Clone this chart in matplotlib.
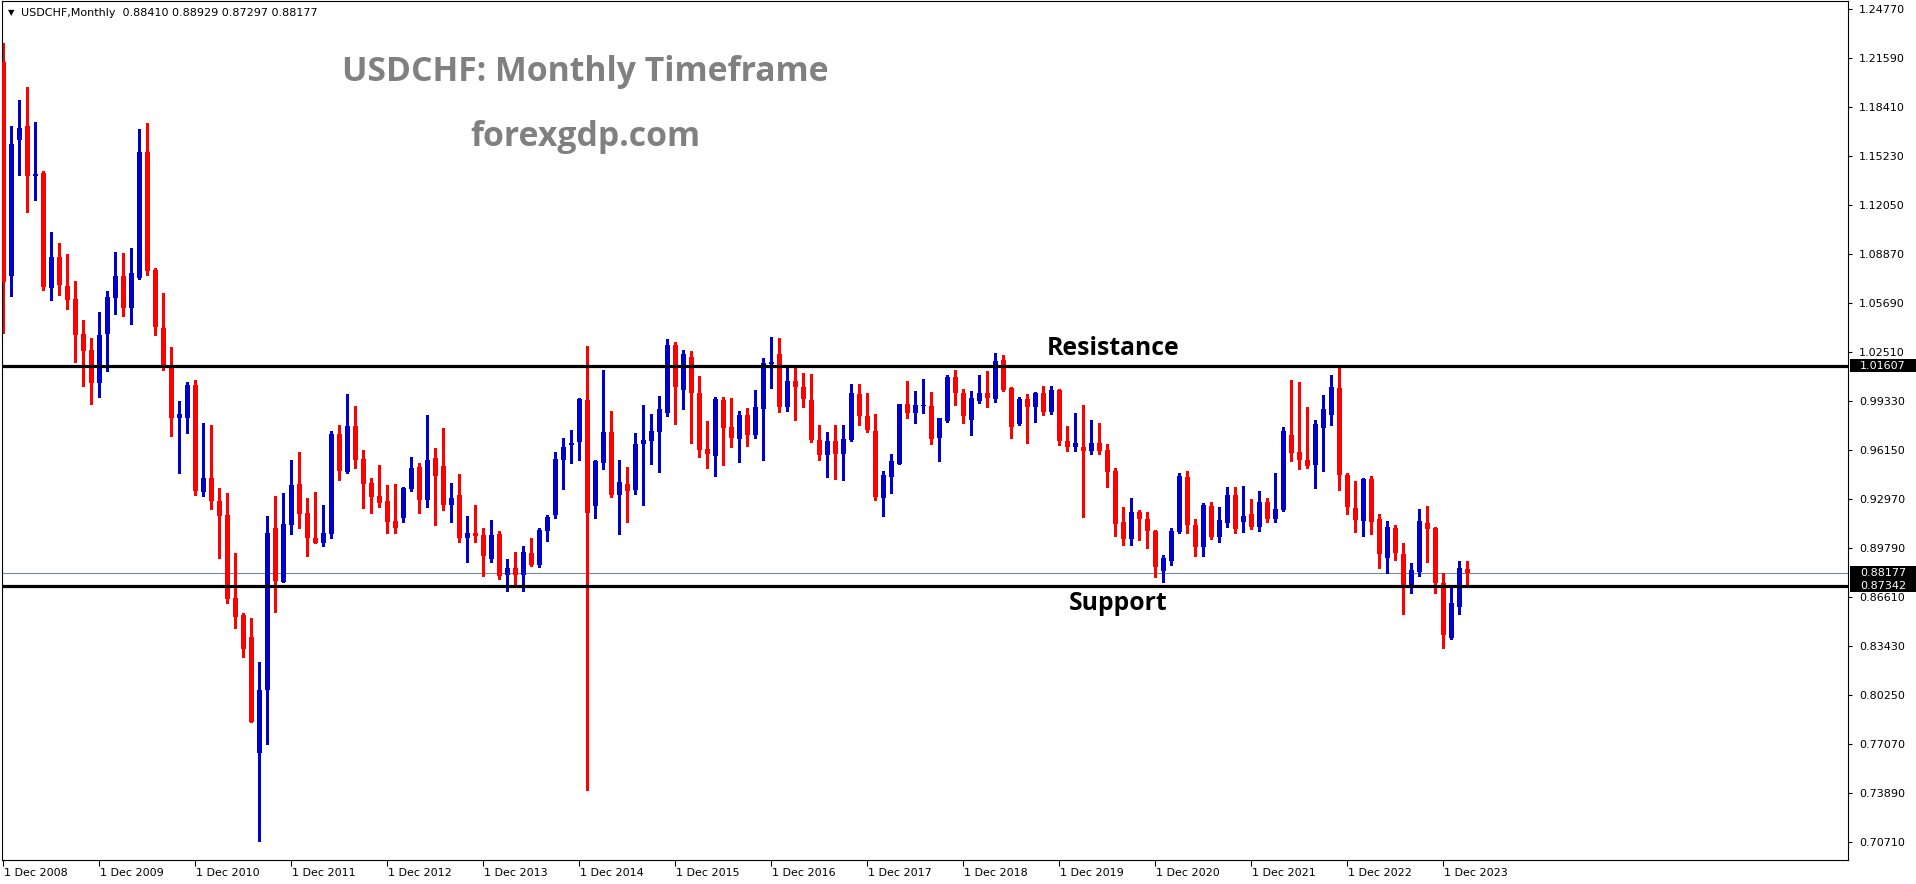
import matplotlib
matplotlib.use("Agg")
import matplotlib.pyplot as plt
import matplotlib.transforms as mtransforms
from matplotlib.patches import Rectangle
import pandas as pd

# USDCHF monthly candles, Dec 2008 .. Mar 2024 (one row per calendar year)
opens = [
    1.2130,
    1.0744, 1.1626, 1.1715, 1.1393, 1.1408, 1.0666, 1.0865, 1.0677, 1.0593, 1.0366, 1.0262, 1.0050,
    1.0368, 1.0602, 1.0742, 1.0537, 1.0731, 1.1546, 1.0781, 1.0405, 1.0154, 0.9823, 0.9823, 1.0035,
    0.9340, 0.9435, 0.9284, 0.9189, 0.8651, 0.8540, 0.8403, 0.7646, 0.8055, 0.9106, 0.8760, 0.9127,
    0.9391, 0.9203, 0.9045, 0.9009, 0.9066, 0.9716, 0.9468, 0.9767, 0.9554, 0.9398, 0.9312, 0.9280,
    0.9150, 0.9173, 0.9361, 0.9500, 0.9289, 0.9561, 0.9507, 0.9257, 0.9319, 0.9043, 0.9073, 0.9059,
    0.8906, 0.9066, 0.8802, 0.8846, 0.8802, 0.8948, 0.8867, 0.9087, 0.9194, 0.9551, 0.9648, 0.9667,
    0.9938, 0.9252, 0.9531, 0.9730, 0.9324, 0.9393, 0.9356, 0.9655, 0.9674, 0.9732, 0.9856, 1.0294,
    1.0005, 1.0217, 0.9983, 0.9620, 0.9577, 0.9938, 0.9763, 0.9687, 0.9840, 0.9713, 0.9882, 1.0173,
    1.0236, 0.9894, 1.0061, 1.0022, 0.9938, 0.9678, 0.9581, 0.9672, 0.9588, 0.9678, 0.9977, 0.9834,
    0.9737, 0.9304, 0.9441, 0.9525, 0.9912, 0.9856, 0.9899, 0.9899, 0.9694, 0.9802, 1.0087, 0.9983,
    0.9810, 0.9931, 0.9983, 0.9944, 1.0197, 1.0016, 0.9782, 0.9944, 0.9892, 0.9983, 0.9862, 1.0003,
    0.9672, 0.9633, 0.9633, 0.9609, 0.9659, 0.9614, 0.9477, 0.9147, 0.9038, 0.9211, 0.9166, 0.9088,
    0.8831, 0.8896, 0.9084, 0.9438, 0.9129, 0.8987, 0.9250, 0.9051, 0.9142, 0.9322, 0.9149, 0.9198,
    0.9116, 0.9276, 0.9168, 0.9222, 0.9711, 0.9601, 0.9549, 0.9516, 0.9758, 0.9843, 1.0016, 0.9451,
    0.9237, 0.9155, 0.9425, 0.9166, 0.8915, 0.9107, 0.8939, 0.8723, 0.8822, 0.9140, 0.9110, 0.8749,
    0.8396, 0.8597, 0.88410,
]
highs = [
    1.2251,
    1.1715, 1.1884, 1.1968, 1.1741, 1.1423, 1.1027, 1.0956, 1.0885, 1.0710, 1.0457, 1.0340, 1.0509,
    1.0645, 1.0898, 1.0891, 1.0924, 1.1696, 1.1734, 1.0794, 1.0632, 1.0282, 0.9931, 1.0057, 1.0070,
    0.9788, 0.9774, 0.9370, 0.9336, 0.8948, 0.8554, 0.8526, 0.8240, 0.9185, 0.9315, 0.9333, 0.9547,
    0.9598, 0.9301, 0.9338, 0.9254, 0.9735, 0.9774, 0.9976, 0.9897, 0.9612, 0.9435, 0.9514, 0.9384,
    0.9391, 0.9375, 0.9565, 0.9528, 0.9839, 0.9626, 0.9756, 0.9398, 0.9456, 0.9185, 0.9254, 0.9110,
    0.9157, 0.9085, 0.8904, 0.8955, 0.8994, 0.9041, 0.9110, 0.9189, 0.9600, 0.9691, 0.9743, 0.9951,
    1.0288, 0.9549, 1.0132, 0.9866, 0.9549, 0.9505, 0.9724, 0.9905, 0.9847, 0.9964, 1.0333, 1.0314,
    1.0262, 1.0256, 1.0093, 0.9804, 0.9957, 0.9957, 0.9951, 0.9869, 0.9886, 1.0003, 1.0210, 1.0346,
    1.0340, 1.0145, 1.0152, 1.0113, 1.0106, 0.9776, 0.9730, 0.9776, 0.9776, 1.0042, 1.0042, 0.9983,
    0.9847, 0.9477, 0.9588, 0.9915, 1.0061, 0.9996, 1.0074, 0.9990, 0.9824, 1.0100, 1.0132, 1.0009,
    0.9996, 1.0100, 1.0126, 1.0243, 1.0230, 1.0022, 0.9957, 0.9977, 0.9990, 1.0029, 1.0029, 1.0009,
    0.9769, 0.9856, 0.9905, 0.9808, 0.9789, 0.9652, 0.9497, 0.9246, 0.9304, 0.9224, 0.9211, 0.9095,
    0.8935, 0.9110, 0.9464, 0.9477, 0.9168, 0.9268, 0.9278, 0.9246, 0.9376, 0.9376, 0.9382, 0.9298,
    0.9350, 0.9304, 0.9464, 0.9765, 1.0067, 1.0055, 0.9892, 0.9808, 0.9970, 1.0100, 1.0148, 0.9464,
    0.9412, 0.9432, 0.9445, 0.9198, 0.9153, 0.9127, 0.9010, 0.8881, 0.9231, 0.9250, 0.9116, 0.8818,
    0.8727, 0.8893, 0.88929,
]
lows = [
    1.0370,
    1.0615, 1.1397, 1.1159, 1.1237, 1.0653, 1.0589, 1.0619, 1.0528, 1.0187, 1.0029, 0.9914, 0.9959,
    1.0128, 1.0498, 1.0485, 1.0433, 1.0725, 1.0751, 1.0362, 1.0134, 0.9706, 0.9463, 0.9727, 0.9321,
    0.9315, 0.9231, 0.8916, 0.8619, 0.8458, 0.8268, 0.7846, 0.7075, 0.7704, 0.8561, 0.8755, 0.9069,
    0.9110, 0.8923, 0.9008, 0.8994, 0.9041, 0.9419, 0.9465, 0.9496, 0.9236, 0.9208, 0.9243, 0.9078,
    0.9075, 0.9145, 0.9345, 0.9203, 0.9243, 0.9127, 0.9222, 0.9145, 0.9015, 0.8886, 0.9015, 0.8795,
    0.8886, 0.8776, 0.8697, 0.8737, 0.8697, 0.8860, 0.8853, 0.9020, 0.9175, 0.9363, 0.9531, 0.9551,
    0.7408, 0.9175, 0.9492, 0.9311, 0.9071, 0.9149, 0.9330, 0.9259, 0.9523, 0.9473, 0.9836, 0.9784,
    0.9882, 0.9661, 0.9570, 0.9499, 0.9447, 0.9518, 0.9635, 0.9538, 0.9642, 0.9693, 0.9551, 1.0018,
    0.9862, 0.9869, 0.9810, 0.9894, 0.9665, 0.9549, 0.9441, 0.9425, 0.9419, 0.9672, 0.9776, 0.9732,
    0.9289, 0.9188, 0.9337, 0.9522, 0.9823, 0.9791, 0.9856, 0.9655, 0.9544, 0.9795, 0.9905, 0.9791,
    0.9711, 0.9918, 0.9892, 0.9925, 0.9996, 0.9691, 0.9776, 0.9659, 0.9795, 0.9841, 0.9847, 0.9648,
    0.9609, 0.9609, 0.9181, 0.9590, 0.9590, 0.9376, 0.9058, 0.8999, 0.8999, 0.9032, 0.8980, 0.8792,
    0.8760, 0.8870, 0.9077, 0.9077, 0.8928, 0.8928, 0.9038, 0.9019, 0.9116, 0.9077, 0.9084, 0.9103,
    0.9090, 0.9149, 0.9149, 0.9216, 0.9542, 0.9492, 0.9499, 0.9369, 0.9479, 0.9778, 0.9356, 0.9201,
    0.9083, 0.9058, 0.9071, 0.8850, 0.8818, 0.8902, 0.8552, 0.8688, 0.8798, 0.8889, 0.8688, 0.8331,
    0.8390, 0.8552, 0.87297,
]
closes = [
    1.0705,
    1.1598, 1.1702, 1.1393, 1.1405, 1.0673, 1.0865, 1.0684, 1.0589, 1.0362, 1.0258, 1.0050, 1.0359,
    1.0606, 1.0742, 1.0537, 1.0762, 1.1546, 1.0777, 1.0413, 1.0147, 0.9823, 0.9847, 1.0035, 0.9345,
    0.9435, 0.9282, 0.9185, 0.8646, 0.8528, 0.8322, 0.7851, 0.8059, 0.9078, 0.8762, 0.9131, 0.9384,
    0.9199, 0.9043, 0.9013, 0.9078, 0.9716, 0.9477, 0.9767, 0.9549, 0.9391, 0.9308, 0.9271, 0.9145,
    0.9108, 0.9368, 0.9496, 0.9289, 0.9547, 0.9445, 0.9257, 0.9301, 0.9043, 0.9073, 0.9055, 0.8925,
    0.9059, 0.8795, 0.8846, 0.8802, 0.8955, 0.8867, 0.9092, 0.9182, 0.9555, 0.9633, 0.9659, 0.9944,
    0.9207, 0.9542, 0.9730, 0.9324, 0.9406, 0.9350, 0.9652, 0.9678, 0.9737, 0.9879, 1.0294, 1.0024,
    1.0236, 0.9985, 0.9616, 0.9590, 0.9944, 0.9758, 0.9693, 0.9840, 0.9713, 0.9892, 1.0178, 1.0184,
    0.9894, 1.0061, 1.0024, 0.9946, 0.9678, 0.9581, 0.9672, 0.9588, 0.9685, 0.9983, 0.9834, 0.9743,
    0.9311, 0.9451, 0.9542, 0.9912, 0.9856, 0.9905, 0.9905, 0.9687, 0.9821, 1.0087, 0.9985, 0.9834,
    0.9951, 0.9983, 0.9951, 1.0191, 1.0003, 0.9763, 0.9944, 0.9892, 0.9983, 0.9860, 1.0003, 0.9674,
    0.9635, 0.9659, 0.9609, 0.9659, 0.9609, 0.9473, 0.9136, 0.9038, 0.9211, 0.9168, 0.9090, 0.8857,
    0.8913, 0.9088, 0.9445, 0.9129, 0.8987, 0.9257, 0.9051, 0.9160, 0.9322, 0.9103, 0.9188, 0.9116,
    0.9276, 0.9168, 0.9231, 0.9739, 0.9594, 0.9551, 0.9512, 0.9782, 0.9879, 1.0022, 0.9453, 0.9246,
    0.9161, 0.9425, 0.9149, 0.8941, 0.9114, 0.8948, 0.8723, 0.8835, 0.9153, 0.9103, 0.8753, 0.8416,
    0.8619, 0.8846, 0.88177,
]

resistance = 1.01607
support = 0.87342
last_price = closes[-1]

price_ticks = [1.24770, 1.21590, 1.18410, 1.15230, 1.12050, 1.08870, 1.05690, 1.02510, 0.99330,
               0.96150, 0.92970, 0.89790, 0.86610, 0.83430, 0.80250, 0.77070, 0.73890, 0.70710]

months = pd.date_range("2008-12-01", periods=len(opens), freq="MS")

BULL = "#0000CD"
BEAR = "#FF0000"

fig = plt.figure(figsize=(19.16, 8.84), dpi=100)
fig.patch.set_facecolor("white")
ax = fig.add_axes([2 / 1916, 24 / 884, 1846 / 1916, 859 / 884])

x = list(range(len(opens)))
colors = [BULL if c >= o else BEAR for o, c in zip(opens, closes)]
bottoms = [min(o, c) for o, c in zip(opens, closes)]
heights = [max(abs(c - o), 0.0008) for o, c in zip(opens, closes)]

ax.vlines(x, lows, highs, colors=colors, linewidth=1.0, antialiased=False, zorder=2)
ax.bar(x, heights, bottom=bottoms, width=0.66, color=colors, linewidth=0, antialiased=False, zorder=3)

ax.axhline(last_price, color="#778899", linewidth=0.8, zorder=1)
ax.axhline(resistance, color="black", linewidth=2.3, zorder=4)
ax.axhline(support, color="black", linewidth=2.3, zorder=4)

ax.set_xlim(-0.16, 230.6)
ax.set_ylim(0.6954, 1.2526)

# price scale on the right
ax.yaxis.tick_right()
ax.set_yticks(price_ticks)
ax.set_yticklabels([f"{p:.5f}" for p in price_ticks])
ax.tick_params(axis="y", direction="out", length=3, width=0.8, pad=5, labelsize=8, colors="black")

# time scale
dec_pos = [i for i, m in enumerate(months) if m.month == 12]
ax.set_xticks(dec_pos)
ax.set_xticklabels([f"1 Dec {months[i].year}" for i in dec_pos])
ax.tick_params(axis="x", direction="out", length=4, width=0.8, pad=2, labelsize=8, colors="black")
offset = mtransforms.ScaledTranslation(1 / 100, 0, fig.dpi_scale_trans)
for lab in ax.get_xticklabels():
    lab.set_horizontalalignment("left")
    lab.set_transform(lab.get_transform() + offset)

for s in ax.spines.values():
    s.set_color("black")
    s.set_linewidth(0.8)

# price boxes on the scale
blend = mtransforms.blended_transform_factory(ax.transAxes, ax.transData)
box_h = 13 * (1.2526 - 0.6954) / 859
for p in [resistance, last_price, support]:
    ax.add_patch(Rectangle((1.0 + 2 / 1846, p - box_h / 2), 0.05, box_h, transform=blend,
                           facecolor="black", edgecolor="none", clip_on=False, zorder=10))
    ax.text(1.0 + 12 / 1846, p, f"{p:.5f}", transform=blend, color="white", fontsize=8,
            va="center", ha="left", clip_on=False, zorder=11)

# header
fig.text(11 / 1916, 1 - 12.5 / 884, "\u25bc", fontsize=6, ha="center", va="center")
fig.text(21 / 1916, 1 - 12.5 / 884,
         f"USDCHF,Monthly  {opens[-1]:.5f} {highs[-1]:.5f} {lows[-1]:.5f} {closes[-1]:.5f}",
         fontsize=8, ha="left", va="center")

title_font = dict(family="Open Sans", weight="bold", color="#808080", fontsize=24.3, ha="center", va="baseline")
fig.text(585 / 1916, 1 - 81 / 884, "USDCHF: Monthly Timeframe", **title_font)
fig.text(585 / 1916, 1 - 146 / 884, "forexgdp.com", **title_font)

label_font = dict(family="Open Sans", weight="bold", color="black", fontsize=17.8, ha="center", va="baseline")
fig.text(1113 / 1916, 1 - 355 / 884, "Resistance", **label_font)
fig.text(1118 / 1916, 1 - 610 / 884, "Support", **label_font)

fig.savefig("out.png", dpi=100)
